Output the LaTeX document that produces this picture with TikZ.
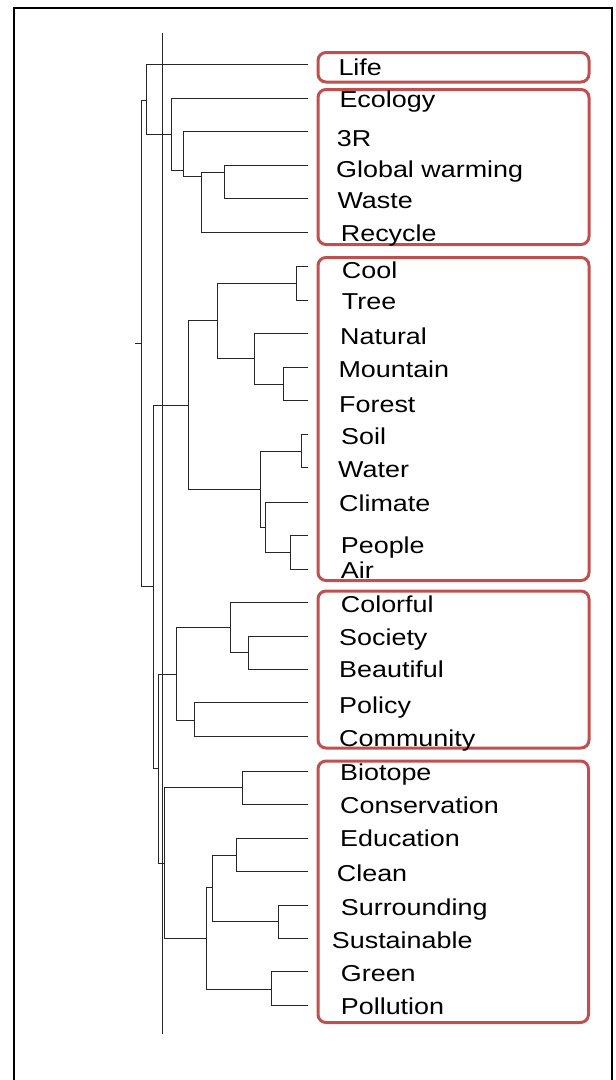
\documentclass[tikz,border=0pt]{standalone}
\usepackage{fontspec}
\newfontfamily\labfont[FakeStretch=1.17]{Liberation Sans}
\definecolor{boxred}{RGB}{192,80,77}
\begin{document}
\begin{tikzpicture}[x=1pt,y=-1pt,
  lab/.style={anchor=base west,inner sep=0pt,font=\labfont\fontsize{23}{27}\selectfont},
  grp/.style={draw=boxred,line width=3pt,rounded corners=8pt},
  den/.style={draw=black!85,line width=1pt},
  frame/.style={draw=black,line width=2pt}]
\useasboundingbox (0,0) rectangle (616,1080);
\draw[frame] (14,1082) -- (14,8) -- (611.5,8) -- (611.5,1082);
% groups
\draw[grp] (318,52.5) rectangle (589,82);
\draw[grp] (318,89.5) rectangle (589,244.5);
\draw[grp] (318,257.5) rectangle (589,580.5);
\draw[grp] (318,591) rectangle (589,748);
\draw[grp] (318,761) rectangle (588.5,1022.5);
% axis
\draw[den] (162.7,33) -- (162.7,1034);
% top cluster
\draw[den] (308,64.3) -| (146.7,134) -- (171,134);
\draw[den] (308,98.3) -| (171,170) -- (183.3,170);
\draw[den] (308,131.7) -| (183.3,176.7) -- (201,176.7);
\draw[den] (308,232.7) -| (201,172.7) -- (224.3,172.7);
\draw[den] (308,165) -| (224.3,198.3) -- (308,198.3);
\draw[den] (146.7,100) -- (141,100) -- (141,586.7) -- (153.3,586.7);
\draw[den] (135,343.3) -- (141,343.3);
% middle cluster
\draw[den] (308,266.7) -| (296.7,300) -- (308,300);
\draw[den] (296.7,283.3) -| (217.7,358.3) -- (254,358.3);
\draw[den] (308,333.3) -| (254,384) -- (283.3,384);
\draw[den] (308,367.3) -| (283.3,400.7) -- (308,400.7);
\draw[den] (217.7,320.7) -| (188.3,489) -- (260,489);
\draw[den] (153.3,405) -- (188.3,405);
\draw[den] (308,434) -| (301.7,467) -- (308,467);
\draw[den] (301.7,451) -| (260,527.3) -- (265.7,527.3);
\draw[den] (308,502.3) -| (265.7,552.3) -- (290,552.3);
\draw[den] (308,535.7) -| (290,569) -- (308,569);
\draw[den] (153.3,405) -- (153.3,768.3) -- (158.3,768.3);
% fourth cluster
\draw[den] (308,602.7) -| (230.7,652.7) -- (248.3,652.7);
\draw[den] (308,636.7) -| (248.3,669) -- (308,669);
\draw[den] (230.7,627.7) -| (176.7,720) -- (194.3,720);
\draw[den] (308,702.7) -| (194.3,736) -- (308,736);
\draw[den] (176.7,674.3) -| (158.3,863.3) -- (164.3,863.3);
% fifth cluster
\draw[den] (308,771) -| (242.7,804) -- (308,804);
\draw[den] (242.7,787.7) -| (164.3,938.3) -- (206,938.3);
\draw[den] (212.7,887.7) -| (206,989) -- (271.7,989);
\draw[den] (236,855) -| (212.7,921.7) -- (278.3,921.7);
\draw[den] (308,838) -| (236,871.7) -- (308,871.7);
\draw[den] (308,905) -| (278.3,938) -- (308,938);
\draw[den] (308,971.7) -| (271.7,1005) -- (308,1005);
% labels
\node[lab] (life) at (338.3,75) {Life};
\node[lab] (ecology) at (339.3,107.7) {Ecology};
\node[lab] (threer) at (336.7,146) {3R};
\node[lab] (gw) at (336,177.3) {Global warming};
\node[lab] (waste) at (337.3,208.3) {Waste};
\node[lab] (recycle) at (340.7,241.7) {Recycle};
\node[lab] (cool) at (341.7,278.3) {Cool};
\node[lab] (tree) at (341.7,309.3) {Tree};
\node[lab] (natural) at (340,344.3) {Natural};
\node[lab] (mountain) at (338.3,377.5) {Mountain};
\node[lab] (forest) at (339,412) {Forest};
\node[lab] (soil) at (341,444) {Soil};
\node[lab] (water) at (338,477) {Water};
\node[lab] (climate) at (339,511) {Climate};
\node[lab] (people) at (340.7,553.3) {People};
\node[lab] (air) at (340.7,578.3) {Air};
\node[lab] (colorful) at (340.7,612.7) {Colorful};
\node[lab] (society) at (339,645) {Society};
\node[lab] (beautiful) at (339,677.5) {Beautiful};
\node[lab] (policy) at (339,713) {Policy};
\node[lab] (community) at (339,746) {Community};
\node[lab] (biotope) at (340,780) {Biotope};
\node[lab] (conservation) at (340,813.3) {Conservation};
\node[lab] (education) at (340,846.7) {Education};
\node[lab] (clean) at (336.7,881) {Clean};
\node[lab] (surrounding) at (340.7,915) {Surrounding};
\node[lab] (sustainable) at (331.7,948.3) {Sustainable};
\node[lab] (green) at (340.7,981.7) {Green};
\node[lab] (pollution) at (340.7,1014) {Pollution};
\end{tikzpicture}
\end{document}
